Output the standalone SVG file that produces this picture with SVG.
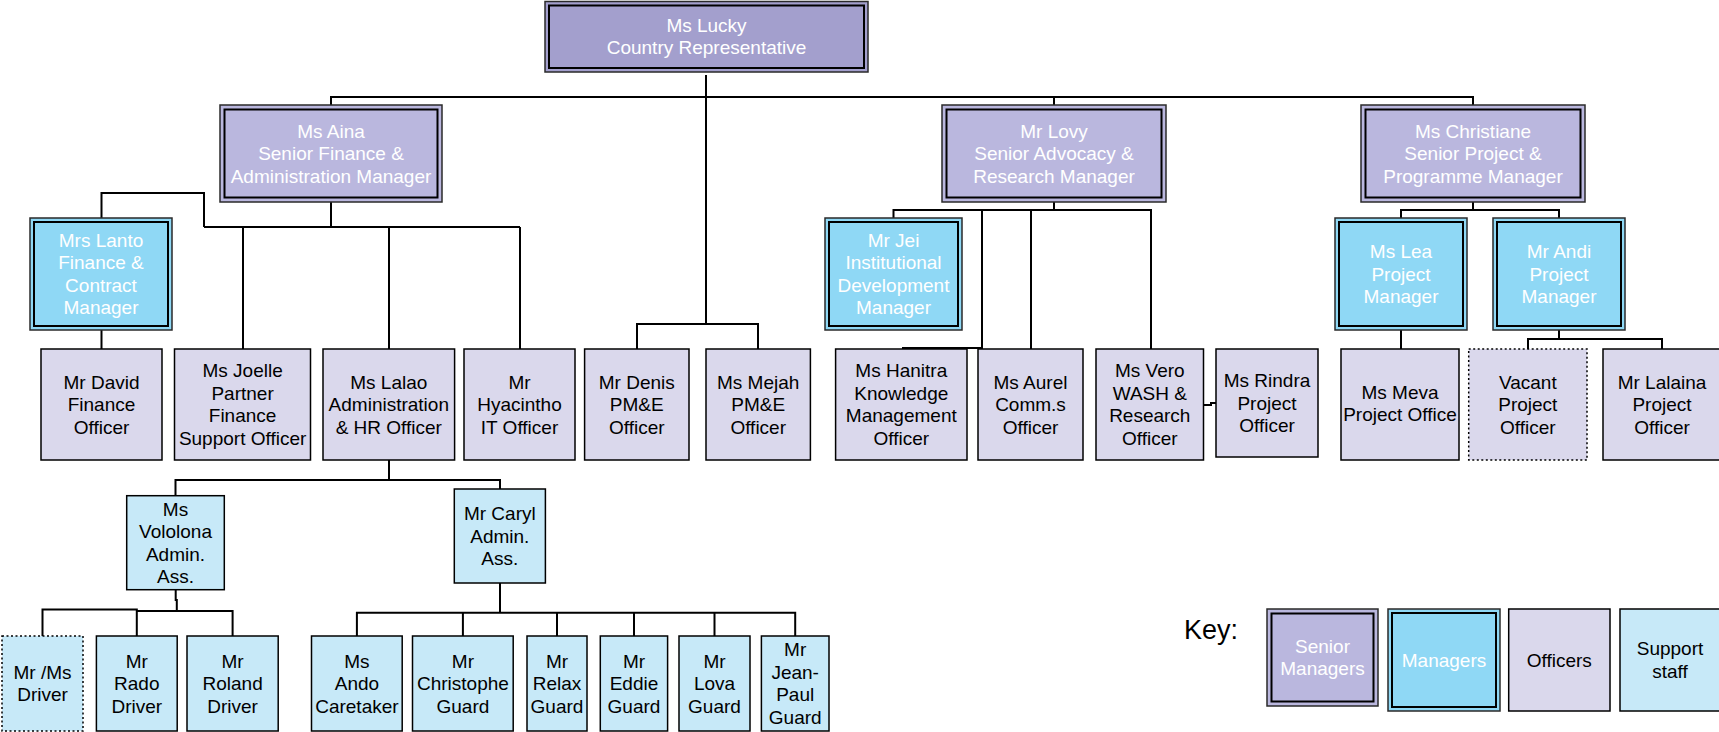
<svg xmlns="http://www.w3.org/2000/svg" width="1719" height="732" viewBox="0 0 1719 732">
<style>
text{font-family:"Liberation Sans",Arial,sans-serif;font-size:19px;text-anchor:middle}
.w{fill:#fff}
.k{fill:#000}
.o1{stroke:#2a2a2a;stroke-width:1.5}
.i1{fill:none;stroke:#000;stroke-width:2}
.sr{fill:#bab7de}
.top{fill:#a39fcd}
.mg{fill:#8fd8f5}
.of{fill:#dad8ec;stroke:#000;stroke-width:1.5}
.sp{fill:#c7e9f8;stroke:#000;stroke-width:1.5}
.dot{stroke-dasharray:2,2.5}
#connectors path{fill:none;stroke:#000;stroke-width:2}
</style>
<rect width="1719" height="732" fill="#fff"/>
<g id="connectors">
<path d="M706,75V324"/>
<path d="M331,105V97H1473V105M1054,97V105"/>
<path d="M637,349V324H758V349"/>
<path d="M331,202V227M204,227H520M243,227V349M389,227V349M520,227V349"/>
<path d="M204,227V193H101.5V218"/>
<path d="M101.5,330V349"/>
<path d="M1054,202V210M893.5,218V210H1151V349M982,210V348H902M1031,210V349"/>
<path d="M1203.5,405H1211V403H1216"/>
<path d="M1473,202V210M1401,218V210H1559V218"/>
<path d="M1401,330V349"/>
<path d="M1559,330V339M1528,349V339H1662V349"/>
<path d="M389,460V480M175.5,496V480H500V489"/>
<path d="M175.7,590V600H176.8V611M42.5,636V609.5H136.8V636M136.8,611H232.6V636"/>
<path d="M500,583V612.7M356.9,636V612.7H795.2V636M462.9,612.7V636M557,612.7V636M634,612.7V636M714.5,612.7V636"/>
</g>
<g id="n-lucky"><rect class="top o1" x="545" y="1.5" width="323" height="70.5"/><rect class="i1" x="549" y="5.5" width="315" height="62.5"/><text class="w" x="706.5" y="31.75">Ms Lucky</text><text class="w" x="706.5" y="54.25">Country Representative</text></g>
<g id="n-aina"><rect class="sr o1" x="220" y="105" width="222" height="97"/><rect class="i1" x="224.5" y="109.5" width="213" height="88"/><text class="w" x="331" y="137.5">Ms Aina</text><text class="w" x="331" y="160">Senior Finance &amp;</text><text class="w" x="331" y="182.5">Administration Manager</text></g>
<g id="n-lovy"><rect class="sr o1" x="942" y="105" width="224" height="97"/><rect class="i1" x="946.5" y="109.5" width="215" height="88"/><text class="w" x="1054" y="137.5">Mr Lovy</text><text class="w" x="1054" y="160">Senior Advocacy &amp;</text><text class="w" x="1054" y="182.5">Research Manager</text></g>
<g id="n-christiane"><rect class="sr o1" x="1361" y="105" width="224" height="97"/><rect class="i1" x="1365.5" y="109.5" width="215" height="88"/><text class="w" x="1473" y="137.5">Ms Christiane</text><text class="w" x="1473" y="160">Senior Project &amp;</text><text class="w" x="1473" y="182.5">Programme Manager</text></g>
<g id="n-lanto"><rect class="mg o1" x="30" y="218" width="142" height="112"/><rect class="i1" x="34" y="222" width="134" height="104"/><text class="w" x="101" y="246.75">Mrs Lanto</text><text class="w" x="101" y="269.25">Finance &amp;</text><text class="w" x="101" y="291.75">Contract</text><text class="w" x="101" y="314.25">Manager</text></g>
<g id="n-jei"><rect class="mg o1" x="825" y="218" width="137" height="112"/><rect class="i1" x="829" y="222" width="129" height="104"/><text class="w" x="893.5" y="246.75">Mr Jei</text><text class="w" x="893.5" y="269.25">Institutional</text><text class="w" x="893.5" y="291.75">Development</text><text class="w" x="893.5" y="314.25">Manager</text></g>
<g id="n-lea"><rect class="mg o1" x="1335" y="218" width="132" height="112"/><rect class="i1" x="1339" y="222" width="124" height="104"/><text class="w" x="1401" y="258">Ms Lea</text><text class="w" x="1401" y="280.5">Project</text><text class="w" x="1401" y="303">Manager</text></g>
<g id="n-andi"><rect class="mg o1" x="1493" y="218" width="132" height="112"/><rect class="i1" x="1497" y="222" width="124" height="104"/><text class="w" x="1559" y="258">Mr Andi</text><text class="w" x="1559" y="280.5">Project</text><text class="w" x="1559" y="303">Manager</text></g>
<g id="n-david"><rect class="of" x="41" y="349" width="121" height="111"/><text class="k" x="101.5" y="388.5">Mr David</text><text class="k" x="101.5" y="411">Finance</text><text class="k" x="101.5" y="433.5">Officer</text></g>
<g id="n-joelle"><rect class="of" x="174.5" y="349" width="136" height="111"/><text class="k" x="242.6" y="377.25">Ms Joelle</text><text class="k" x="242.6" y="399.75">Partner</text><text class="k" x="242.6" y="422.25">Finance</text><text class="k" x="242.6" y="444.75">Support Officer</text></g>
<g id="n-lalao"><rect class="of" x="323" y="349" width="131.6" height="111"/><text class="k" x="388.8" y="388.5">Ms Lalao</text><text class="k" x="388.8" y="411">Administration</text><text class="k" x="388.8" y="433.5">&amp; HR Officer</text></g>
<g id="n-hyacintho"><rect class="of" x="464" y="349" width="111" height="111"/><text class="k" x="519.5" y="388.5">Mr</text><text class="k" x="519.5" y="411">Hyacintho</text><text class="k" x="519.5" y="433.5">IT Officer</text></g>
<g id="n-denis"><rect class="of" x="584.6" y="349" width="104.4" height="111"/><text class="k" x="636.8" y="388.5">Mr Denis</text><text class="k" x="636.8" y="411">PM&amp;E</text><text class="k" x="636.8" y="433.5">Officer</text></g>
<g id="n-mejah"><rect class="of" x="706" y="349" width="104.4" height="111"/><text class="k" x="758.2" y="388.5">Ms Mejah</text><text class="k" x="758.2" y="411">PM&amp;E</text><text class="k" x="758.2" y="433.5">Officer</text></g>
<g id="n-hanitra"><rect class="of" x="835.6" y="349" width="131.4" height="111"/><text class="k" x="901.3" y="377.25">Ms Hanitra</text><text class="k" x="901.3" y="399.75">Knowledge</text><text class="k" x="901.3" y="422.25">Management</text><text class="k" x="901.3" y="444.75">Officer</text></g>
<g id="n-aurel"><rect class="of" x="978" y="349" width="105" height="111"/><text class="k" x="1030.5" y="388.5">Ms Aurel</text><text class="k" x="1030.5" y="411">Comm.s</text><text class="k" x="1030.5" y="433.5">Officer</text></g>
<g id="n-vero"><rect class="of" x="1096" y="349" width="107.5" height="111"/><text class="k" x="1149.8" y="377.25">Ms Vero</text><text class="k" x="1149.8" y="399.75">WASH &amp;</text><text class="k" x="1149.8" y="422.25">Research</text><text class="k" x="1149.8" y="444.75">Officer</text></g>
<g id="n-rindra"><rect class="of" x="1216" y="349" width="102" height="108"/><text class="k" x="1267" y="387">Ms Rindra</text><text class="k" x="1267" y="409.5">Project</text><text class="k" x="1267" y="432">Officer</text></g>
<g id="n-meva"><rect class="of" x="1341" y="349" width="118" height="111"/><text class="k" x="1400" y="398.5">Ms Meva</text><text class="k" x="1400" y="421">Project Office</text></g>
<g id="n-vacant"><rect class="of dot" x="1468.7" y="349" width="118.3" height="111"/><text class="k" x="1527.8" y="388.5">Vacant</text><text class="k" x="1527.8" y="411">Project</text><text class="k" x="1527.8" y="433.5">Officer</text></g>
<g id="n-lalaina"><rect class="of" x="1603" y="349" width="118" height="111"/><text class="k" x="1662" y="388.5">Mr Lalaina</text><text class="k" x="1662" y="411">Project</text><text class="k" x="1662" y="433.5">Officer</text></g>
<g id="n-vololona"><rect class="sp" x="126.7" y="495.7" width="97.6" height="94"/><text class="k" x="175.5" y="515.5">Ms</text><text class="k" x="175.5" y="538">Vololona</text><text class="k" x="175.5" y="560.5">Admin.</text><text class="k" x="175.5" y="583">Ass.</text></g>
<g id="n-caryl"><rect class="sp" x="454.3" y="489" width="91.1" height="94"/><text class="k" x="499.8" y="520">Mr Caryl</text><text class="k" x="499.8" y="542.5">Admin.</text><text class="k" x="499.8" y="565">Ass.</text></g>
<g id="n-driver"><rect class="sp dot" x="2" y="636" width="81" height="95"/><text class="k" x="42.5" y="678.75">Mr /Ms</text><text class="k" x="42.5" y="701.25">Driver</text></g>
<g id="n-rado"><rect class="sp" x="96.4" y="636" width="80.8" height="95"/><text class="k" x="136.8" y="667.5">Mr</text><text class="k" x="136.8" y="690">Rado</text><text class="k" x="136.8" y="712.5">Driver</text></g>
<g id="n-roland"><rect class="sp" x="187" y="636" width="91.2" height="95"/><text class="k" x="232.6" y="667.5">Mr</text><text class="k" x="232.6" y="690">Roland</text><text class="k" x="232.6" y="712.5">Driver</text></g>
<g id="n-ando"><rect class="sp" x="311.5" y="636" width="90.7" height="95"/><text class="k" x="356.9" y="667.5">Ms</text><text class="k" x="356.9" y="690">Ando</text><text class="k" x="356.9" y="712.5">Caretaker</text></g>
<g id="n-christophe"><rect class="sp" x="412.5" y="636" width="100.7" height="95"/><text class="k" x="462.9" y="667.5">Mr</text><text class="k" x="462.9" y="690">Christophe</text><text class="k" x="462.9" y="712.5">Guard</text></g>
<g id="n-relax"><rect class="sp" x="527" y="636" width="60" height="95"/><text class="k" x="557" y="667.5">Mr</text><text class="k" x="557" y="690">Relax</text><text class="k" x="557" y="712.5">Guard</text></g>
<g id="n-eddie"><rect class="sp" x="600.3" y="636" width="67.3" height="95"/><text class="k" x="634" y="667.5">Mr</text><text class="k" x="634" y="690">Eddie</text><text class="k" x="634" y="712.5">Guard</text></g>
<g id="n-lova"><rect class="sp" x="679" y="636" width="71" height="95"/><text class="k" x="714.5" y="667.5">Mr</text><text class="k" x="714.5" y="690">Lova</text><text class="k" x="714.5" y="712.5">Guard</text></g>
<g id="n-jeanpaul"><rect class="sp" x="761.4" y="636" width="67.6" height="95"/><text class="k" x="795.2" y="656.25">Mr</text><text class="k" x="795.2" y="678.75">Jean-</text><text class="k" x="795.2" y="701.25">Paul</text><text class="k" x="795.2" y="723.75">Guard</text></g>
<g id="key">
<text class="k" x="1211" y="639" style="font-size:27px">Key:</text>
<rect class="sr o1" x="1267" y="609" width="111" height="97"/><rect class="i1" x="1271.5" y="613.5" width="102" height="88"/><text class="w" x="1322.5" y="652.75">Senior</text><text class="w" x="1322.5" y="675.25">Managers</text>
<rect class="mg o1" x="1388" y="609" width="112" height="102"/><rect class="i1" x="1392" y="613" width="104" height="94"/><text class="w" x="1444" y="666.5">Managers</text>
<rect class="of" x="1508.7" y="609" width="101.3" height="102"/><text class="k" x="1559.3" y="666.5">Officers</text>
<rect class="sp" x="1620" y="609" width="101" height="102"/><text class="k" x="1670" y="655.25">Support</text><text class="k" x="1670" y="677.75">staff</text>
</g>
</svg>
